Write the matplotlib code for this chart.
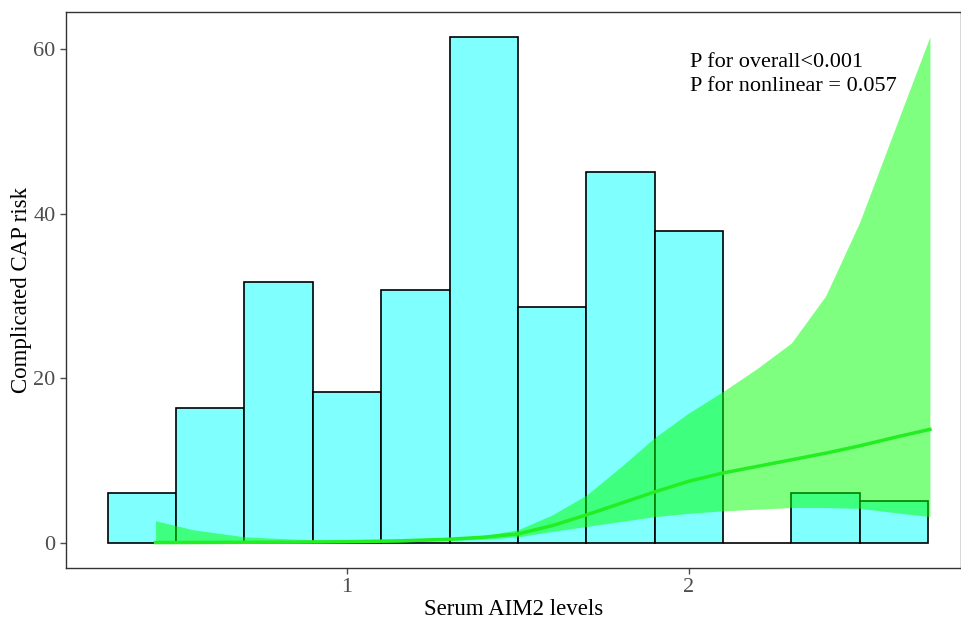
import numpy as np
import matplotlib.pyplot as plt

plt.rcParams['font.family'] = ['Liberation Serif', 'DejaVu Serif']

# histogram of serum AIM2 (scaled heights)
bin_edges = [0.3, 0.5, 0.7, 0.9, 1.1, 1.3, 1.5, 1.7, 1.9, 2.1, 2.3, 2.5, 2.7]
bar_heights = [6.1, 16.4, 31.7, 18.3, 30.7, 61.5, 28.7, 45.1, 37.9, 0.0, 6.1, 5.1]

# RCS curve
curve_x = [0.44, 0.55, 0.7, 0.85, 1.0, 1.15, 1.3, 1.4, 1.5, 1.6, 1.7, 1.8, 1.9, 2.0, 2.1, 2.2, 2.3, 2.4, 2.5, 2.6, 2.705]
curve_y = [0.05, 0.06, 0.08, 0.1, 0.15, 0.25, 0.45, 0.7, 1.1, 2.1, 3.4, 4.8, 6.2, 7.5, 8.5, 9.3, 10.1, 10.9, 11.8, 12.8, 13.8]
lower_ci = [0.0, 0.0, 0.0, 0.0, 0.05, 0.12, 0.3, 0.45, 0.75, 1.4, 2.0, 2.6, 3.2, 3.6, 3.9, 4.1, 4.3, 4.3, 4.2, 3.7, 3.2]
upper_ci = [2.7, 1.6, 0.75, 0.45, 0.3, 0.3, 0.5, 0.9, 1.6, 3.4, 5.8, 9.2, 12.8, 15.8, 18.4, 21.2, 24.3, 30.0, 39.0, 50.0, 61.5]

fig = plt.figure(figsize=(9.62, 6.2), dpi=100)
ax = fig.add_axes([0.0686, 0.0839, 0.930, 0.8968])

widths = np.diff(bin_edges)
ax.bar(bin_edges[:-1], bar_heights, width=widths, align='edge',
       color='#80FFFF', edgecolor='black', linewidth=1.2)
ax.fill_between(curve_x, lower_ci, upper_ci, color='#00FF00', alpha=0.5, linewidth=0)
ax.plot(curve_x, curve_y, color='#22EE22', linewidth=2.5)

ax.text(0.697, 0.927, 'P for overall<0.001\nP for nonlinear = 0.057',
        transform=ax.transAxes, va='top', ha='left', fontsize=16, linespacing=1.4)

ax.set_xlim(0.178, 2.795)
ax.set_ylim(-3.04, 64.5)
ax.set_xticks([1, 2])
ax.set_yticks([0, 20, 40, 60])
ax.tick_params(colors='#4D4D4D', labelsize=16, length=4, width=1)
for s in ax.spines.values():
    s.set_color('#333333')
    s.set_linewidth(1)
ax.set_xlabel('Serum AIM2 levels', fontsize=16.5, labelpad=1)
ax.set_ylabel('Complicated CAP risk', fontsize=16.5, labelpad=1)

fig.savefig('out.png', dpi=100)
